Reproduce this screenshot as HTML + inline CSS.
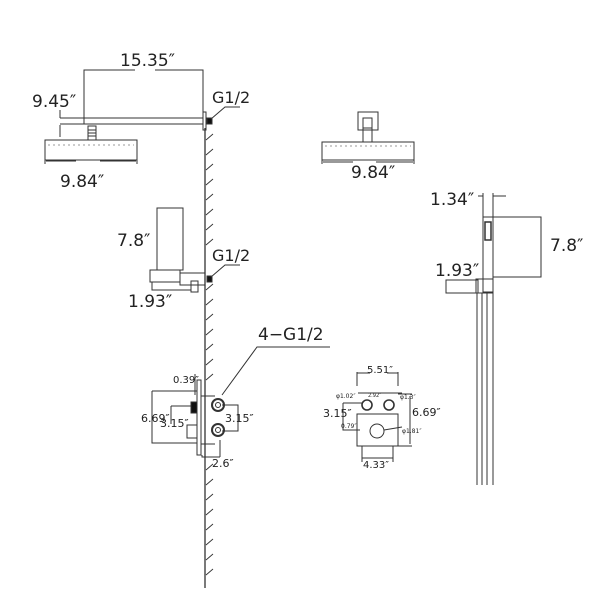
<!DOCTYPE html>
<html><head><meta charset="utf-8"><style>
body{margin:0;background:#fff}
svg{display:block}
text{font-family:"DejaVu Sans","Liberation Sans",sans-serif;fill:#222}
</style></head><body>
<svg width="600" height="600" viewBox="0 0 600 600" xmlns="http://www.w3.org/2000/svg" fill="none" stroke="#333" stroke-width="1">
<!-- wall -->
<line x1="205" y1="128" x2="205" y2="588" stroke-width="1.3"/>
<g stroke-width="0.9">
<path d="M206 140l7-6M206 155l7-6M206 170l7-6M206 185l7-6M206 200l7-6M206 215l7-6M206 230l7-6M206 245l7-6M206 290l7-6M206 305l7-6M206 320l7-6M206 335l7-6M206 350l7-6M206 365l7-6M206 380l7-6M206 470l7-6M206 485l7-6M206 500l7-6M206 515l7-6M206 530l7-6M206 545l7-6M206 560l7-6M206 575l7-6"/>
</g>
<!-- top arm -->
<line x1="60" y1="118" x2="203" y2="118"/>
<line x1="60" y1="124" x2="203" y2="124"/>
<rect x="203" y="112" width="3" height="18"/>
<rect x="207" y="118" width="5" height="6" fill="#111"/>
<path d="M211 119L225 107H240"/>
<text x="212" y="103" font-size="16" stroke="none">G1/2</text>
<!-- 15.35 -->
<path d="M84 124V70H135M155 70H203V112"/>
<text x="120" y="66" font-size="17" stroke="none">15.35″</text>
<text x="32" y="107" font-size="17" stroke="none">9.45″</text>
<path d="M60 110V118M60 125V137"/>
<!-- head -->
<rect x="88" y="126" width="8" height="14"/>
<path d="M88 130h8M88 133h8M88 136h8"/>
<rect x="45" y="140" width="92" height="20"/>
<path d="M48 145h86" stroke-dasharray="2 3" stroke-width="0.6"/>
<path d="M45 160v4M137 160v4M46 161h30M100 161h36"/>
<text x="60" y="187" font-size="17" stroke="none">9.84″</text>
<!-- hand bracket left -->
<rect x="157" y="208" width="26" height="62"/>
<path d="M183 208V232M183 260V270"/>
<text x="117" y="246" font-size="17" stroke="none">7.8″</text>
<rect x="150" y="270" width="30" height="12"/>
<rect x="180" y="273" width="25" height="12"/>
<rect x="191" y="281" width="7" height="11"/>
<path d="M152 282V290H191"/>
<rect x="207" y="276" width="5" height="6" fill="#111"/>
<path d="M211 277L225 265H240"/>
<text x="212" y="261" font-size="16" stroke="none">G1/2</text>
<text x="128" y="307" font-size="17" stroke="none">1.93″</text>
<!-- 4-G1/2 -->
<text x="258" y="340" font-size="17" stroke="none">4−G1/2</text>
<path d="M330 347H257L222 395"/>
<!-- valve side -->
<rect x="197" y="380" width="4" height="75"/>
<path d="M152 391H197M152 391V443H197"/>
<path d="M171 406H192M171 406V424"/>
<rect x="191" y="402" width="6" height="11" fill="#111"/>
<rect x="187" y="425" width="10" height="13"/>
<path d="M201 436V385M201 396H215M201 444H215"/>
<path d="M195 374V395"/>
<circle cx="218" cy="405" r="6" stroke-width="2"/><circle cx="218" cy="405" r="2.5"/>
<circle cx="218" cy="430" r="6" stroke-width="2"/><circle cx="218" cy="430" r="2.5"/>
<path d="M222 405H238V431H222M220 440V457M202 455V457H220"/>
<text x="173" y="383" font-size="10" stroke="none">0.39″</text>
<text x="141" y="422" font-size="11" stroke="none">6.69″</text>
<text x="160" y="427" font-size="11" stroke="none">3.15″</text>
<text x="225" y="422" font-size="11" stroke="none">3.15″</text>
<text x="212" y="467" font-size="11" stroke="none">2.6″</text>
<!-- valve front -->
<path d="M357 372V386M398 372V386M357 373H370M387 373H398"/>
<text x="367" y="373" font-size="10" stroke="none">5.51″</text>
<text x="336" y="398" font-size="6" stroke="none">φ1.02″</text>
<text x="368" y="397" font-size="5" stroke="none">2.92″</text>
<text x="400" y="399" font-size="6" stroke="none">φ1.3″</text>
<path d="M358 393H402"/>
<circle cx="367" cy="405" r="5" stroke-width="1.6"/>
<circle cx="389" cy="405" r="5" stroke-width="1.6"/>
<rect x="357" y="414" width="41" height="32"/>
<circle cx="377" cy="431" r="7"/>
<path d="M384 430L402 427M398 394H412M398 446H412M410 396V444"/>
<text x="412" y="416" font-size="11" stroke="none">6.69″</text>
<text x="402" y="433" font-size="6" stroke="none">φ1.81″</text>
<text x="323" y="417" font-size="11" stroke="none">3.15″</text>
<path d="M343 403H362M343 403V430H360"/>
<text x="341" y="428" font-size="6" stroke="none">0.79″</text>
<path d="M362 446V462M393 446V462M362 458H393"/>
<text x="363" y="468" font-size="10" stroke="none">4.33″</text>
<!-- right head -->
<rect x="358" y="112" width="20" height="18"/>
<rect x="363" y="118" width="9" height="10"/>
<rect x="363" y="128" width="9" height="14" />
<rect x="322" y="142" width="92" height="18"/>
<path d="M325 146h86" stroke-dasharray="2 3" stroke-width="0.6"/>
<path d="M322 160v4M414 160v4M323 162h30M376 162h37"/>
<text x="351" y="178" font-size="17" stroke="none">9.84″</text>
<!-- right hand -->
<text x="430" y="205" font-size="17" stroke="none">1.34″</text>
<path d="M478 196H483M483 193V217M493 193V217M493 196H506"/>
<rect x="483" y="217" width="10" height="75"/>
<rect x="485" y="222" width="6" height="18" stroke-width="1.5"/>
<rect x="493" y="217" width="48" height="60"/>
<path d="M541 217V277" stroke-width="0.8"/>
<text x="550" y="251" font-size="17" stroke="none">7.8″</text>
<text x="435" y="276" font-size="17" stroke="none">1.93″</text>
<rect x="446" y="280" width="32" height="13"/>
<rect x="476" y="279" width="17" height="14"/>
<path d="M477 293V485M482 293V485M487 293V485M493 293V485"/>
</svg>
</body></html>
